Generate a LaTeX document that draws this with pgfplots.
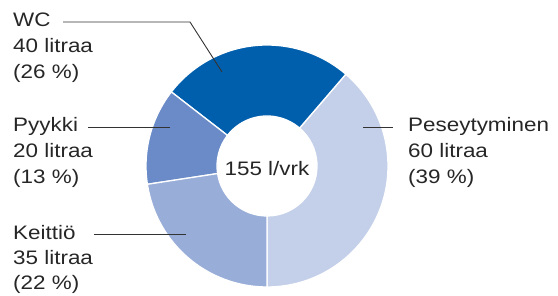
\documentclass[border=0pt]{standalone}
\usepackage{pgfplots}
\usepackage{pgfplotstable}
\pgfplotsset{compat=1.18}
\usepackage{fontspec}
\setmainfont[FakeStretch=1.15]{Liberation Sans}
\definecolor{cwc}{HTML}{005FAD}
\definecolor{cpy}{HTML}{6A8BC8}
\definecolor{cke}{HTML}{98ADD8}
\definecolor{cpe}{HTML}{C4D0E9}
\definecolor{cline}{HTML}{333333}
\pgfplotstableread{
name liters pct
Peseytyminen 60 39
WC 40 26
Pyykki 20 13
Keittio 35 22
}\data
\begin{document}
\begin{tikzpicture}
\pgfplotstablegetelem{0}{liters}\of\data \let\va\pgfplotsretval
\pgfplotstablegetelem{1}{liters}\of\data \let\vb\pgfplotsretval
\pgfplotstablegetelem{2}{liters}\of\data \let\vc\pgfplotsretval
\pgfplotstablegetelem{3}{liters}\of\data \let\vd\pgfplotsretval
\pgfmathsetmacro\tot{\va+\vb+\vc+\vd}
\pgfmathsetmacro\aA{-90}
\pgfmathsetmacro\aB{\aA+360*(\va/\tot)}
\pgfmathsetmacro\aC{\aB+360*(\vb/\tot)}
\pgfmathsetmacro\aD{\aC+360*(\vc/\tot)}
\pgfmathsetmacro\aE{\aD+360*(\vd/\tot)}
\def\Ro{121}
\def\Ri{50}
\begin{axis}[hide axis, scale only axis, width=558pt, height=296pt,
  xmin=0, xmax=558, ymin=0, ymax=296, clip=false]
\path (axis cs:0,0) rectangle (axis cs:558,296);
\coordinate (c) at (axis cs:267,130);
\fill[cpe, draw=white, line width=1.3pt] (c) ++(\aA:\Ro) arc[start angle=\aA, end angle=\aB, radius=\Ro] -- ([shift={(\aB:\Ri)}]c) arc[start angle=\aB, end angle=\aA, radius=\Ri] -- cycle;
\fill[cwc, draw=white, line width=1.3pt] (c) ++(\aB:\Ro) arc[start angle=\aB, end angle=\aC, radius=\Ro] -- ([shift={(\aC:\Ri)}]c) arc[start angle=\aC, end angle=\aB, radius=\Ri] -- cycle;
\fill[cpy, draw=white, line width=1.3pt] (c) ++(\aC:\Ro) arc[start angle=\aC, end angle=\aD, radius=\Ro] -- ([shift={(\aD:\Ri)}]c) arc[start angle=\aD, end angle=\aC, radius=\Ri] -- cycle;
\fill[cke, draw=white, line width=1.3pt] (c) ++(\aD:\Ro) arc[start angle=\aD, end angle=\aE, radius=\Ro] -- ([shift={(\aE:\Ri)}]c) arc[start angle=\aE, end angle=\aD, radius=\Ri] -- cycle;
% leader lines
\draw[cline, line width=0.9pt] (axis cs:63,274) -- (axis cs:190,274) -- (axis cs:222,224);
\draw[cline, line width=0.9pt] (axis cs:88,169) -- (axis cs:170,169);
\draw[cline, line width=0.9pt] (axis cs:94,62) -- (axis cs:186,62);
\draw[cline, line width=0.9pt] (axis cs:363,169) -- (axis cs:393,169);
% labels
\tikzset{lab/.style={anchor=base west, inner sep=0pt, text=black!85, font=\fontsize{19.5}{26}\selectfont}}
\node[lab] at (axis cs:13,269) {WC};
\node[lab] at (axis cs:13,243) {40 litraa};
\node[lab] at (axis cs:13,217) {(26 \%)};
\node[lab] at (axis cs:13,164) {Pyykki};
\node[lab] at (axis cs:13,138) {20 litraa};
\node[lab] at (axis cs:13,112) {(13 \%)};
\node[lab] at (axis cs:13,56) {Keittiö};
\node[lab] at (axis cs:13,31) {35 litraa};
\node[lab] at (axis cs:13,6) {(22 \%)};
\node[lab] at (axis cs:408,164) {Peseytyminen};
\node[lab] at (axis cs:408,138) {60 litraa};
\node[lab] at (axis cs:408,112) {(39 \%)};
\node[lab, anchor=base] at (axis cs:267,120) {155 l/vrk};
\end{axis}
\end{tikzpicture}
\end{document}
